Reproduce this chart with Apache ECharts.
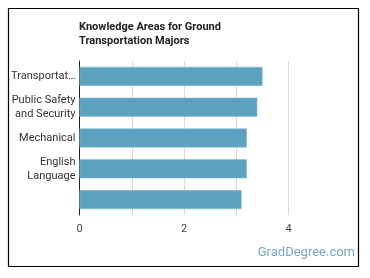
<!DOCTYPE html>
<html><head><meta charset="utf-8">
<script src="https://cdn.jsdelivr.net/npm/echarts@6/dist/echarts.min.js"></script>
<style>html,body{margin:0;padding:0;background:#fff}#c{width:370px;height:278px}</style>
</head><body><div id="c"></div>
<script>
const titleText = 'Knowledge Areas for Ground\nTransportation Majors';
const categories = ['Transportation', 'Public Safety\nand Security', 'Mechanical', 'English\nLanguage', ''];
const values = [3.5, 3.4, 3.2, 3.2, 3.1];
const tickLabels = {0: '0', 2: '2', 4: '4'};
const watermark = 'GradDegree.com';

const chart = echarts.init(document.getElementById('c'), null, {renderer: 'canvas'});
chart.setOption({
  animation: false,
  backgroundColor: '#fff',
  title: {
    text: titleText, left: 74, top: 15,
    textStyle: {fontFamily: 'Roboto', fontSize: 11, fontWeight: 'bold', color: '#222', lineHeight: 14}
  },
  grid: {left: 79.5, right: 81.3, top: 61, bottom: 63, containLabel: false},
  xAxis: {
    type: 'value', min: 0, max: 4, interval: 1,
    axisLine: {show: false}, axisTick: {show: false},
    splitLine: {show: true, lineStyle: {color: '#d9d9d9', width: 1}},
    axisLabel: {
      fontFamily: 'Roboto', fontSize: 11, color: '#444', margin: 9,
      formatter: v => tickLabels[v] !== undefined ? tickLabels[v] : ''
    }
  },
  yAxis: {
    type: 'category', inverse: true, data: categories,
    axisLine: {show: true, lineStyle: {color: '#222', width: 1}},
    axisTick: {show: false},
    axisLabel: {
      fontFamily: 'Roboto', fontSize: 11, color: '#333', margin: 4,
      width: 68, overflow: 'truncate', ellipsis: '…', lineHeight: 14, align: 'right'
    }
  },
  series: [{
    type: 'bar', data: values, barWidth: '62%',
    itemStyle: {color: '#5ca2c0', borderColor: '#8fc0d4', borderWidth: 0.6}
  }],
  graphic: [
    {type: 'rect', shape: {x: 8.5, y: 8.5, width: 350, height: 258},
     style: {fill: 'none', stroke: '#000', lineWidth: 1.2}, z: 100},
    {type: 'text', right: 15, top: 246,
     style: {text: watermark, fontFamily: 'Roboto', fontSize: 13, fill: '#7aa7c4'}}
  ]
});
</script></body></html>
